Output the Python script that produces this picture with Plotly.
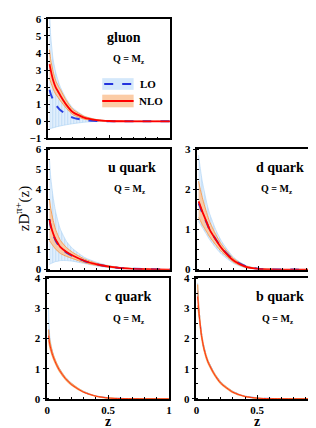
import plotly.graph_objects as go

W, H = 316, 428

z = [0.01, 0.02, 0.04, 0.06, 0.08, 0.1, 0.15, 0.2, 0.3, 0.4, 0.5, 0.6, 0.8, 1.0]

# gluon
g_nlo = [3.35, 3.0, 2.4, 2.0, 1.75, 1.5, 0.95, 0.55, 0.2, 0.07, 0.02, 0.005, 0.0, 0.0]
g_nlo_hi = [4.2, 3.6, 2.9, 2.4, 2.1, 1.85, 1.2, 0.72, 0.28, 0.1, 0.03, 0.01, 0.0, 0.0]
g_nlo_lo = [2.5, 2.3, 1.9, 1.6, 1.4, 1.2, 0.75, 0.4, 0.12, 0.03, 0.01, 0.0, 0.0, 0.0]
g_lo = [1.85, 1.6, 1.25, 1.0, 0.8, 0.65, 0.4, 0.22, 0.07, 0.02, 0.005, 0.0, 0.0, 0.0]
g_lo_hi = [6.5, 5.0, 3.6, 2.9, 2.4, 2.0, 1.3, 0.8, 0.3, 0.1, 0.03, 0.01, 0.0, 0.0]
g_lo_lo = [-0.45, -0.42, -0.38, -0.34, -0.3, -0.27, -0.2, -0.14, -0.05, 0.0, 0.0, 0.0, 0.0, 0.0]

# u quark
u_nlo = [2.5, 2.2, 1.8, 1.5, 1.3, 1.12, 0.88, 0.7, 0.43, 0.26, 0.15, 0.08, 0.02, 0.0]
u_nlo_hi = [3.5, 3.05, 2.45, 2.0, 1.7, 1.45, 1.1, 0.86, 0.52, 0.31, 0.18, 0.1, 0.025, 0.0]
u_nlo_lo = [1.45, 1.35, 1.18, 1.02, 0.91, 0.8, 0.66, 0.55, 0.34, 0.21, 0.12, 0.06, 0.015, 0.0]
u_lo = [2.5, 2.15, 1.75, 1.45, 1.25, 1.08, 0.85, 0.68, 0.42, 0.26, 0.15, 0.08, 0.02, 0.0]
u_lo_hi = [5.5, 4.6, 3.6, 2.9, 2.4, 2.0, 1.4, 1.05, 0.6, 0.36, 0.2, 0.1, 0.03, 0.0]
u_lo_lo = [0.25, 0.3, 0.35, 0.4, 0.42, 0.45, 0.45, 0.42, 0.3, 0.18, 0.1, 0.05, 0.01, 0.0]

# d quark
d_nlo = [1.7, 1.62, 1.45, 1.3, 1.15, 1.0, 0.75, 0.53, 0.22, 0.07, 0.02, 0.005, 0.0, 0.0]
d_nlo_hi = [2.2, 2.05, 1.8, 1.58, 1.38, 1.2, 0.88, 0.62, 0.27, 0.09, 0.025, 0.007, 0.0, 0.0]
d_nlo_lo = [1.3, 1.25, 1.12, 1.02, 0.92, 0.82, 0.62, 0.44, 0.18, 0.05, 0.015, 0.004, 0.0, 0.0]
d_lo = [1.65, 1.58, 1.42, 1.28, 1.14, 1.0, 0.76, 0.54, 0.23, 0.08, 0.02, 0.005, 0.0, 0.0]
d_lo_hi = [2.85, 2.6, 2.2, 1.9, 1.62, 1.4, 1.0, 0.7, 0.3, 0.1, 0.03, 0.01, 0.0, 0.0]
d_lo_lo = [1.2, 1.15, 1.05, 0.95, 0.85, 0.75, 0.55, 0.38, 0.15, 0.04, 0.01, 0.0, 0.0, 0.0]

# c quark
c_nlo = [2.1, 1.82, 1.5, 1.28, 1.1, 0.95, 0.67, 0.47, 0.22, 0.09, 0.03, 0.01, 0.0, 0.0]
c_nlo_hi = [2.3, 1.95, 1.58, 1.34, 1.15, 0.99, 0.7, 0.5, 0.235, 0.097, 0.033, 0.011, 0.0, 0.0]
c_nlo_lo = [1.95, 1.72, 1.44, 1.23, 1.06, 0.91, 0.64, 0.45, 0.21, 0.085, 0.027, 0.009, 0.0, 0.0]
c_lo = [2.3, 1.9, 1.53, 1.3, 1.12, 0.97, 0.69, 0.49, 0.23, 0.095, 0.03, 0.01, 0.0, 0.0]
c_lo_hi = [3.0, 2.1, 1.62, 1.36, 1.16, 1.01, 0.72, 0.51, 0.245, 0.1, 0.034, 0.011, 0.0, 0.0]
c_lo_lo = [2.2, 1.85, 1.5, 1.26, 1.09, 0.94, 0.67, 0.47, 0.22, 0.09, 0.028, 0.009, 0.0, 0.0]

# b quark
b_nlo = [3.4, 2.9, 2.15, 1.7, 1.4, 1.18, 0.8, 0.52, 0.22, 0.08, 0.025, 0.008, 0.0, 0.0]
b_nlo_hi = [3.8, 3.05, 2.23, 1.76, 1.45, 1.22, 0.83, 0.55, 0.235, 0.087, 0.028, 0.009, 0.0, 0.0]
b_nlo_lo = [3.1, 2.78, 2.07, 1.64, 1.35, 1.14, 0.77, 0.5, 0.205, 0.073, 0.022, 0.007, 0.0, 0.0]
b_lo = [3.6, 2.95, 2.17, 1.72, 1.42, 1.2, 0.82, 0.54, 0.23, 0.085, 0.027, 0.009, 0.0, 0.0]
b_lo_hi = [3.85, 3.05, 2.24, 1.77, 1.46, 1.24, 0.85, 0.57, 0.245, 0.092, 0.03, 0.01, 0.0, 0.0]
b_lo_lo = [3.3, 2.85, 2.12, 1.68, 1.38, 1.17, 0.8, 0.52, 0.22, 0.08, 0.024, 0.008, 0.0, 0.0]

panels = [
    ("gluon", g_nlo, g_nlo_hi, g_nlo_lo, g_lo, g_lo_hi, g_lo_lo, [-1, 6]),
    ("u quark", u_nlo, u_nlo_hi, u_nlo_lo, u_lo, u_lo_hi, u_lo_lo, [0, 6]),
    ("d quark", d_nlo, d_nlo_hi, d_nlo_lo, d_lo, d_lo_hi, d_lo_lo, [0, 3]),
    ("c quark", c_nlo, c_nlo_hi, c_nlo_lo, c_lo, c_lo_hi, c_lo_lo, [0, 4]),
    ("b quark", b_nlo, b_nlo_hi, b_nlo_lo, b_lo, b_lo_hi, b_lo_lo, [0, 4]),
]
xtick_vals = [0, 0.5, 1]
xtick_text = ["0", "0.5", "1"]

# pixel boxes (left, top, right, bottom)
boxes = [
    (38, 5, 162, 128),
    (38, 139, 162, 263),
    (190, 139, 314, 263),
    (37, 272, 161, 396),
    (189, 272, 313, 396),
]
# label centres (x for name, x for Q label)
label_x = [(115, 120), (123, 121), (274, 271), (120, 120), (274, 272)]

SERIF = "Liberation Serif"
BLUE_BAND = "#bcdcf7"
ORANGE_BAND = "rgba(251,200,160,0.9)"
ORANGE_EDGE = "#f6a15a"

fig = go.Figure()
layout = dict(
    width=W, height=H, margin=dict(l=0, r=0, t=0, b=0),
    paper_bgcolor="white", plot_bgcolor="white", showlegend=False,
)
annotations = []
shapes = []


def px(x):
    return x / W


def py(y):
    return 1 - y / H


for i, (name, nlo, nhi, nlo_lo, lo, lhi, llo, yr) in enumerate(panels):
    n = i + 1
    xa = "x" if n == 1 else f"x{n}"
    ya = "y" if n == 1 else f"y{n}"
    l, t, r, b = boxes[i]
    bottom = i >= 3
    thin = i >= 3
    layout[f"xaxis{'' if n == 1 else n}"] = dict(
        domain=[l / W, r / W], anchor=ya, range=[0, 1],
        tickvals=xtick_vals, ticktext=xtick_text if bottom else ["", "", ""],
        ticks="inside", ticklen=4, tickwidth=1, tickcolor="black",
        minor=dict(dtick=0.1, ticks="inside", ticklen=2, tickcolor="black"),
        showline=True, linecolor="black", linewidth=1.5, mirror=True,
        showgrid=False, zeroline=False,
        tickfont=dict(family=SERIF, size=11, color="black", weight="bold"),
    )
    layout[f"yaxis{'' if n == 1 else n}"] = dict(
        domain=[1 - b / H, 1 - t / H], anchor=xa, range=yr, dtick=1,
        ticks="outside", ticklen=3, tickwidth=1, tickcolor="black",
        minor=dict(dtick=0.5 if yr[1] > 3 else 0.25, ticks="inside", ticklen=2, tickcolor="black"),
        showline=True, linecolor="black", linewidth=1.5, mirror=True,
        showgrid=False, zeroline=False,
        tickfont=dict(family=SERIF, size=11, color="black", weight="bold"),
    )
    common = dict(x=z, xaxis=xa, yaxis=ya, mode="lines", hoverinfo="skip")
    sp = dict(shape="spline", smoothing=0.6)
    # LO band
    fig.add_trace(go.Scatter(y=lhi, line=dict(color="#a9d2f5", width=0.6, **sp), **common))
    fig.add_trace(go.Scatter(y=llo, line=dict(color="#a9d2f5", width=0.6, **sp),
                             fill="tonexty", fillcolor=BLUE_BAND,
                             fillpattern=dict(shape="|", fgcolor="#9fcaf2", bgcolor="rgba(225,239,252,1)",
                                              size=3, solidity=0.35), **common))
    lo_trace = go.Scatter(y=lo, line=dict(color="#2a3fe0" if not thin else "#7f9cf0",
                                          width=2 if not thin else 1.5, dash="dash", **sp), **common)
    if thin:
        fig.add_trace(lo_trace)
    # NLO band
    fig.add_trace(go.Scatter(y=nhi, line=dict(color=ORANGE_EDGE, width=1.2 if thin else 1, **sp), **common))
    fig.add_trace(go.Scatter(y=nlo_lo, line=dict(color=ORANGE_EDGE, width=1.2 if thin else 1, **sp),
                             fill="tonexty", fillcolor=ORANGE_BAND, **common))
    if not thin:
        fig.add_trace(lo_trace)
    fig.add_trace(go.Scatter(y=nlo, line=dict(color="#ff0000" if not thin else "#ff3010",
                                              width=1.8 if not thin else 1.0, **sp), **common))

    nx, qx = label_x[i]
    annotations.append(dict(text=name, x=px(nx), y=py(t + 19), xref="paper", yref="paper",
                            showarrow=False, xanchor="center", yanchor="middle",
                            font=dict(family=SERIF, size=14, color="black", weight="bold")))
    annotations.append(dict(text="Q = M<sub>z</sub>", x=px(qx), y=py(t + 42), xref="paper", yref="paper",
                            showarrow=False, xanchor="center", yanchor="middle",
                            font=dict(family=SERIF, size=10, color="black", weight="bold")))

# dotted zero line in gluon panel
shapes.append(dict(type="line", xref="x", yref="y", x0=0, x1=1, y0=0, y1=0,
                   line=dict(color="#999999", width=1, dash="dot"), layer="below"))

# legend in gluon panel
shapes.append(dict(type="rect", xref="paper", yref="paper", x0=px(93), x1=px(125), y0=py(78), y1=py(66),
                   fillcolor="#d4e8fb", line=dict(width=0)))
shapes.append(dict(type="line", xref="paper", yref="paper", x0=px(95), x1=px(123), y0=py(72), y1=py(72),
                   line=dict(color="#2233dd", width=2, dash="dash")))
shapes.append(dict(type="rect", xref="paper", yref="paper", x0=px(93), x1=px(125), y0=py(96), y1=py(83),
                   fillcolor="#fbcca6", line=dict(width=0)))
shapes.append(dict(type="line", xref="paper", yref="paper", x0=px(93), x1=px(125), y0=py(89.5), y1=py(89.5),
                   line=dict(color="#ff0000", width=2)))
annotations.append(dict(text="LO", x=px(129), y=py(72), xref="paper", yref="paper", showarrow=False,
                        xanchor="left", yanchor="middle",
                        font=dict(family=SERIF, size=11, color="black", weight="bold")))
annotations.append(dict(text="NLO", x=px(128), y=py(89.5), xref="paper", yref="paper", showarrow=False,
                        xanchor="left", yanchor="middle",
                        font=dict(family=SERIF, size=11, color="black", weight="bold")))

# axis titles
annotations.append(dict(text="zD<sup>π+</sup>(z)", x=px(12), y=py(200), xref="paper", yref="paper",
                        showarrow=False, textangle=-90, xanchor="center", yanchor="middle",
                        font=dict(family=SERIF, size=15, color="black")))
for xc in (99, 251):
    annotations.append(dict(text="z", x=px(xc), y=py(428), xref="paper", yref="paper", showarrow=False,
                            xanchor="center", yanchor="bottom", borderpad=0,
                            font=dict(family=SERIF, size=14, color="black", weight="bold")))

layout["annotations"] = annotations
layout["shapes"] = shapes
fig.update_layout(**layout)
fig.write_html("out.html")
